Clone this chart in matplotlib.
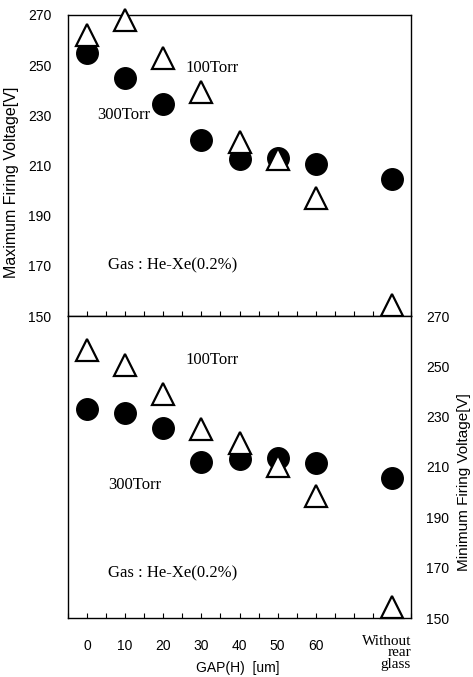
import matplotlib
matplotlib.use("Agg")
import matplotlib.pyplot as plt
import matplotlib.transforms as mtransforms
import numpy as np

# ---- data ----
gap_positions = [0, 10, 20, 30, 40, 50, 60, 80]
gap_labels = ["0", "10", "20", "30", "40", "50", "60", "Without\nrear\nglass"]

max_300torr = [255, 245, 234.5, 220, 212.5, 213, 210.5, 204.5]
max_100torr = [262, 268, 253, 239.5, 219.5, 212.5, 197, 154.5]

min_300torr = [233, 231.5, 225.5, 212, 213, 213.5, 211.5, 205.5]
min_100torr = [256.5, 250.5, 239, 225, 219.5, 210.5, 198.5, 154.5]

y_ticks = [150, 170, 190, 210, 230, 250, 270]

W, H = 473, 677
fig = plt.figure(figsize=(W / 100, H / 100), dpi=100)

sans = "Liberation Sans"
serif = "Liberation Serif"

def fx(px):
    return px / W

def fy(py):
    return 1 - py / H

ax1 = fig.add_axes([fx(68), fy(316), fx(411) - fx(68), fy(15) - fy(316)])
ax2 = fig.add_axes([fx(68), fy(618), fx(411) - fx(68), fy(316) - fy(618)])

ms = 15.5
for ax, circ, tri in [(ax1, max_300torr, max_100torr), (ax2, min_300torr, min_100torr)]:
    ax.plot(gap_positions, circ, linestyle="none", marker="o", markersize=ms,
            markerfacecolor="black", markeredgecolor="black", zorder=3)
    ax.plot(gap_positions, tri, linestyle="none", marker="^", markersize=ms + 1,
            markerfacecolor="white", markeredgecolor="black", markeredgewidth=1.6,
            zorder=4, clip_on=False)
    ax.set_xlim(-5, 85)
    ax.set_ylim(150, 270)
    ax.set_yticks(y_ticks)
    ax.set_xticks(gap_positions)
    ax.set_xticks(np.arange(-5, 86, 5), minor=True)
    for s in ax.spines.values():
        s.set_linewidth(1.0)
        s.set_color("black")
    ax.tick_params(axis="x", which="both", direction="in", top=False, bottom=True,
                   length=3.5, width=0.8)
    ax.tick_params(axis="y", which="both", length=0)

# top axes
ax1.tick_params(axis="x", labelbottom=False)
ax1.tick_params(axis="y", left=True, right=False, labelleft=True, labelright=False,
                pad=12, labelsize=10)
for lab in ax1.get_yticklabels():
    lab.set_fontfamily(sans)

# bottom axes
ax2.yaxis.tick_right()
ax2.tick_params(axis="y", labelleft=False, labelright=True, pad=11, labelsize=10)
for lab in ax2.get_yticklabels():
    lab.set_fontfamily(sans)
ax2.set_xticklabels(gap_labels)
ax2.tick_params(axis="x", which="major", pad=15, labelsize=10)
xl = ax2.get_xticklabels()
for lab in xl:
    lab.set_fontfamily(sans)
last = xl[-1]
last.set_fontfamily(serif)
last.set_fontsize(11)
last.set_horizontalalignment("right")
last.set_multialignment("right")
last.set_linespacing(0.85)
last.set_transform(last.get_transform() +
                   mtransforms.ScaledTranslation(19 / 100, 4 / 100, fig.dpi_scale_trans))

# annotations (serif)
def ptext(x, y, s):
    fig.text(fx(x), fy(y), s, fontsize=12, fontfamily=serif, ha="left", va="center")

ptext(185, 68, "100Torr")
ptext(97, 115, "300Torr")
ptext(108, 265, "Gas : He-Xe(0.2%)")
ptext(185, 360, "100Torr")
ptext(108, 485, "300Torr")
ptext(108, 573, "Gas : He-Xe(0.2%)")

# axis labels
fig.text(fx(12), fy(182), "Maximum Firing Voltage[V]", rotation=90, fontsize=11.5,
         fontfamily=sans, ha="center", va="center")
fig.text(fx(464), fy(482), "Minimum Firing Voltage[V]", rotation=90, fontsize=11,
         fontfamily=sans, ha="center", va="center")
fig.text(fx(238), fy(668), "GAP(H)  [um]", fontsize=10, fontfamily=sans,
         ha="center", va="center")

fig.savefig("out.png", dpi=100)
